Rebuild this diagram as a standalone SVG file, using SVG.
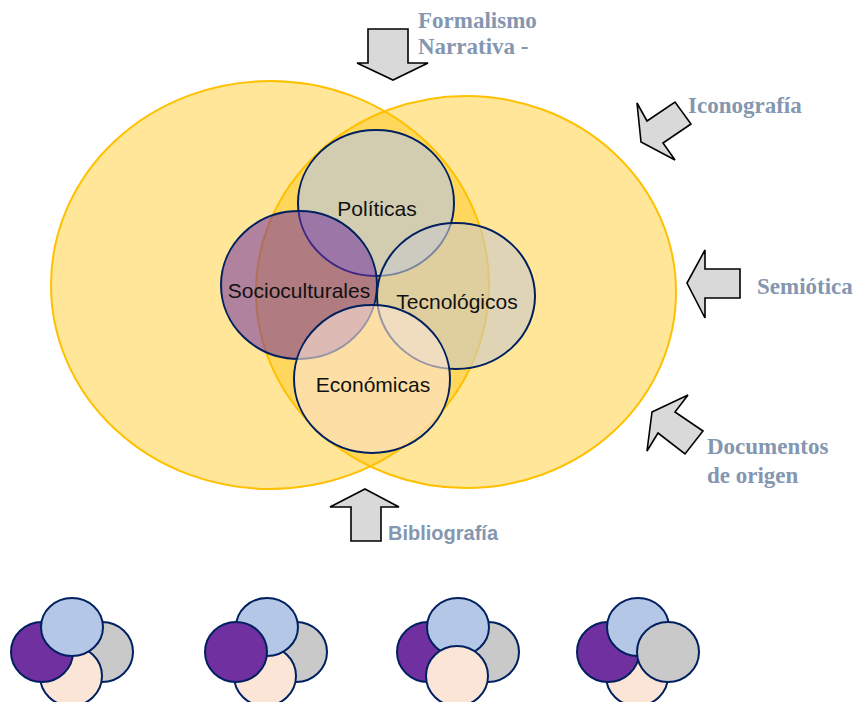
<svg xmlns="http://www.w3.org/2000/svg" width="859" height="702" viewBox="0 0 859 702">
<style>
.big{fill:#FFC000;fill-opacity:0.4;stroke:#FFC000;stroke-width:2}
.c{stroke:#002060;stroke-width:2}
.pol{fill:#B4C7E7;fill-opacity:0.6}
.soc{fill:#7030A0;fill-opacity:0.55}
.tec{fill:#C9C9C9;fill-opacity:0.6}
.eco{fill:#FBE5D6;fill-opacity:0.6}
.lbl{font-family:"Liberation Sans",Arial,sans-serif;font-size:21px;fill:#111;text-anchor:middle}
.arr{fill:#D9D9D9;stroke:#000;stroke-width:1.6;stroke-linejoin:miter}
.st{font-family:"Liberation Serif","Times New Roman",serif;font-weight:bold;font-size:23px;fill:#8496B0}
.ss{font-family:"Liberation Sans",Arial,sans-serif;font-weight:bold;font-size:20px;fill:#8496B0}
.p{fill:#7030A0}.b{fill:#B4C7E7}.g{fill:#C9C9C9}.k{fill:#FBE5D6}
.s{stroke:#002060;stroke-width:2}
</style>
<g id="big-left"><ellipse class="big" cx="270" cy="285" rx="219" ry="204"/></g>
<g id="big-right"><ellipse class="big" cx="466" cy="292" rx="210" ry="196"/></g>
<g id="politicas"><ellipse class="c pol" cx="376" cy="203" rx="78" ry="73"/><text class="lbl" x="377" y="216">Políticas</text></g>
<g id="socioculturales"><ellipse class="c soc" cx="299" cy="285" rx="78" ry="74"/></g>
<g id="tecnologicos"><ellipse class="c tec" cx="456" cy="296" rx="79" ry="73"/></g>
<g id="economicas"><ellipse class="c eco" cx="372" cy="379" rx="78" ry="74"/><text class="lbl" x="373" y="392">Económicas</text></g>
<text class="lbl" x="299" y="298">Socioculturales</text>
<text class="lbl" x="457" y="309">Tecnológicos</text>
<g id="connectors">
<polygon class="arr" points="368,29 408,29 408,63 428,63 393,80 357,63 368,63"/>
<polygon class="arr" points="641,142 637,103 647,121 675,102 691,124 663,143 675,160"/>
<polygon class="arr" points="687,283 705,250 705,269 740,269 740,298 705,298 705,318"/>
<polygon class="arr" points="652,412 688,395 675,412 703,431 685,454 658,433 647,451"/>
<polygon class="arr" points="365,489 399,507 381,507 381,541 351,541 351,507 330,507"/>
</g>
<g id="label-formalismo"><text class="st" x="418" y="28">Formalismo</text><text class="st" x="418" y="54">Narrativa -</text></g>
<g id="label-iconografia"><text class="st" x="688" y="113">Iconografía</text></g>
<g id="label-semiotica"><text class="st" x="757" y="294">Semiótica</text></g>
<g id="label-documentos"><text class="st" x="707" y="454">Documentos</text><text class="st" x="707" y="483">de origen</text></g>
<g id="label-bibliografia"><text class="ss" x="388" y="540">Bibliografía</text></g>
<g id="mini-1">
<ellipse class="s g" cx="102" cy="652" rx="31" ry="30"/>
<ellipse class="s k" cx="71" cy="676" rx="31" ry="30"/>
<ellipse class="s p" cx="42" cy="652" rx="31" ry="30"/>
<ellipse class="s b" cx="72" cy="627" rx="31" ry="29"/>
</g>
<g id="mini-2">
<ellipse class="s g" cx="296" cy="652" rx="31" ry="30"/>
<ellipse class="s k" cx="265" cy="676" rx="31" ry="30"/>
<ellipse class="s b" cx="267" cy="627" rx="31" ry="29"/>
<ellipse class="s p" cx="236" cy="652" rx="31" ry="30"/>
</g>
<g id="mini-3">
<ellipse class="s p" cx="428" cy="652" rx="31" ry="30"/>
<ellipse class="s g" cx="488" cy="652" rx="31" ry="30"/>
<ellipse class="s b" cx="458" cy="627" rx="31" ry="29"/>
<ellipse class="s k" cx="457" cy="676" rx="31" ry="30"/>
</g>
<g id="mini-4">
<ellipse class="s k" cx="637" cy="676" rx="31" ry="30"/>
<ellipse class="s p" cx="608" cy="652" rx="31" ry="30"/>
<ellipse class="s b" cx="638" cy="627" rx="31" ry="29"/>
<ellipse class="s g" cx="668" cy="652" rx="31" ry="30"/>
</g>
</svg>
